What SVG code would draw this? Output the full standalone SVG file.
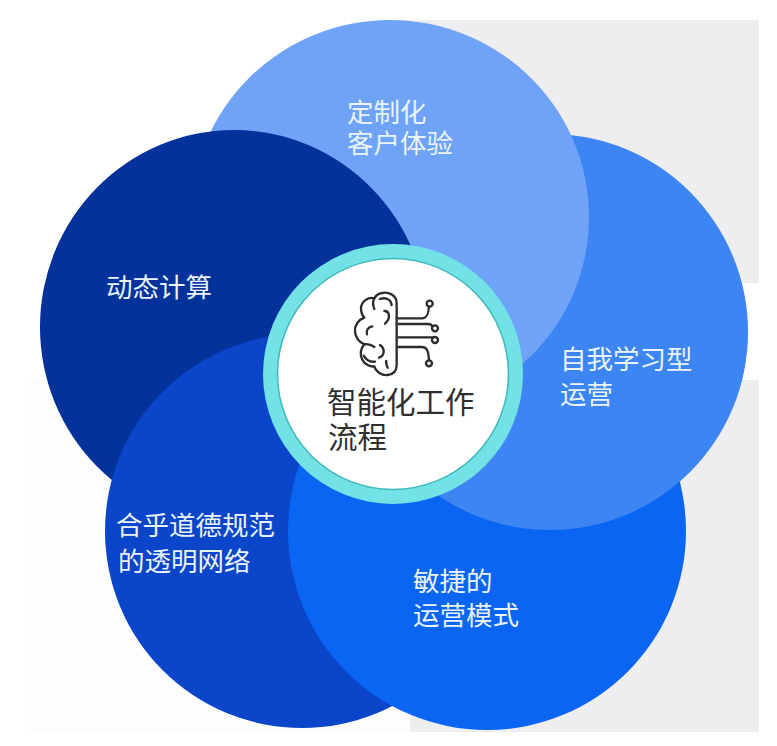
<svg xmlns="http://www.w3.org/2000/svg" width="777" height="746" viewBox="0 0 777 746">
<style>
.t{font-family:"Noto Sans CJK SC","Noto Sans",sans-serif;font-size:26.5px;fill:#e9f3fb}
.c{font-family:"Noto Sans CJK SC","Noto Sans",sans-serif;font-size:29.5px;fill:#2f2f2f}
.b{fill:none;stroke:#2b2b2b;stroke-width:7;stroke-linecap:round;stroke-linejoin:round}
</style>
<defs>
<clipPath id="inRight"><circle cx="550" cy="332" r="198"/></clipPath>
<clipPath id="inBR"><circle cx="487" cy="531" r="200.5"/></clipPath>
<clipPath id="inBRwide"><circle cx="487" cy="531" r="204"/></clipPath>
</defs>
<rect width="777" height="746" fill="#fff"/>
<g id="background">
<rect x="30" y="380" width="380" height="352" fill="#fdfdfd"/>
<rect x="400" y="20" width="359" height="263" fill="#eeeef0"/>
<rect x="410" y="380" width="349" height="352" fill="#eeedef"/>
</g>
<g id="node-right"><circle cx="550" cy="332" r="198" fill="#3d85f3"/></g>
<g id="node-top"><ellipse cx="390" cy="217" rx="199" ry="197" fill="#6fa3f7"/></g>
<g id="node-left"><ellipse cx="234" cy="327" rx="194" ry="197" fill="#04329b"/></g>
<g id="node-bottom-left"><circle cx="302" cy="531" r="197" fill="#0b45c9"/></g>
<g id="node-bottom-right"><circle cx="487" cy="531" r="199" fill="#0a66f2"/></g>
<g id="overlap-right">
<circle cx="550" cy="332" r="198" fill="#3d85f3" clip-path="url(#inBR)"/>
<g clip-path="url(#inRight)"><ellipse cx="390" cy="217" rx="199" ry="197" fill="#6fa3f7" clip-path="url(#inBRwide)"/></g>
</g>
<g id="labels">
<text class="t" x="347" y="122">定制化</text>
<text class="t" x="347" y="153">客户体验</text>
<text class="t" x="106" y="297">动态计算</text>
<text class="t" x="560" y="369">自我学习型</text>
<text class="t" x="560" y="404">运营</text>
<text class="t" x="413" y="591">敏捷的</text>
<text class="t" x="413" y="625">运营模式</text>
<text class="t" x="116" y="535">合乎道德规范</text>
<text class="t" x="118" y="571">的透明网络</text>
</g>
<g id="node-center">
<circle cx="393" cy="374" r="130" fill="#72e2e6"/>
<circle cx="393" cy="374" r="115.5" fill="#fff" stroke="#3fb9bb" stroke-width="1.5"/>
<g transform="translate(345 285) scale(.3333)">
<path class="b" d="M155 240V55C155 30 130 20 112 24C100 26 92 32 88 40C70 34 48 50 48 70C48 82 52 92 58 98C40 104 28 122 30 140C32 158 44 172 58 178C46 190 44 210 52 224C60 240 78 246 88 244C92 260 110 272 128 270C145 268 155 258 155 240Z"/>
<path class="b" d="M105 42C120 36 138 42 140 60M88 40C82 50 84 62 88 72M118 78C134 78 138 100 120 116M82 124C70 126 62 136 66 148M58 178C70 176 80 180 88 186M105 180C120 190 120 212 102 218M56 212C64 226 76 232 90 230M128 248C124 240 122 234 124 228"/>
<path class="b" d="M160 100H232C245 100 250 90 252 66M160 117H250C256 117 260 120 262 124M160 157H262M160 186H230C245 186 250 195 252 225"/>
<circle class="b" cx="254" cy="56" r="9"/>
<circle class="b" cx="270" cy="130" r="9"/>
<circle class="b" cx="270" cy="165" r="9"/>
<circle class="b" cx="252" cy="235" r="9"/>
</g>
<text class="c" x="327" y="413">智能化工作</text>
<text class="c" x="328" y="448">流程</text>
</g>
<g id="connectors"/>
</svg>
